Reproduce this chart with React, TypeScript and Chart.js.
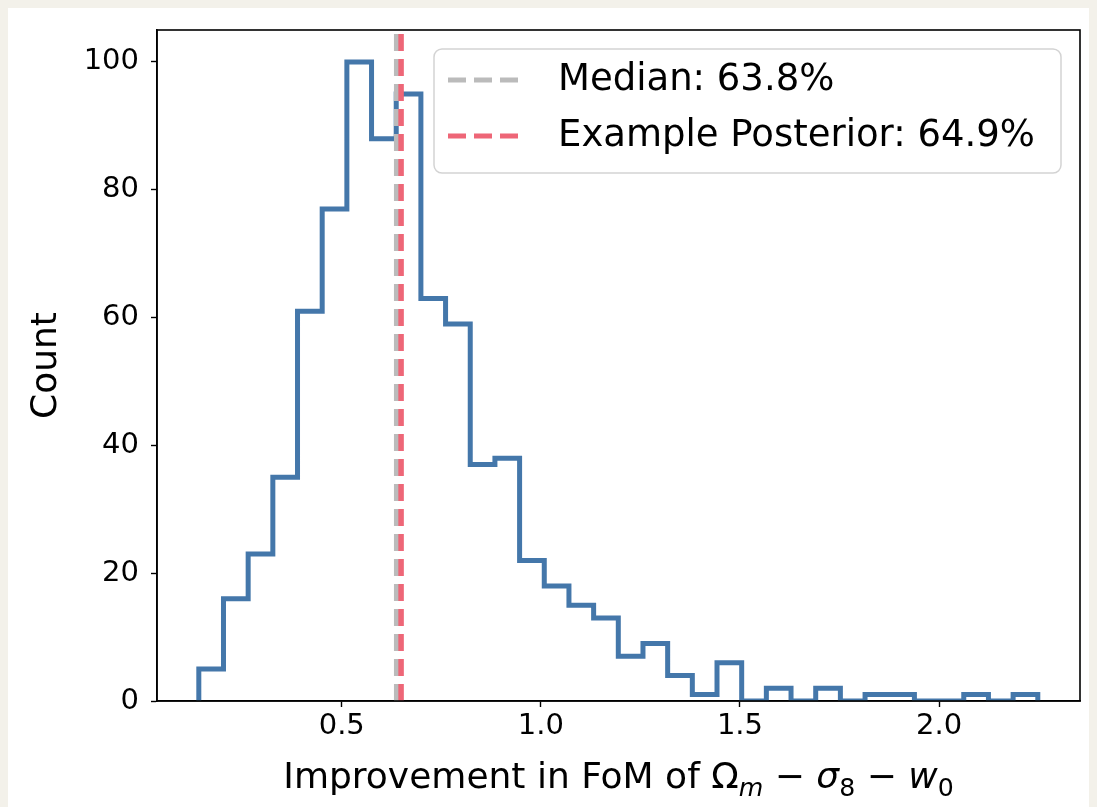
import React, { useEffect, useRef } from 'react';
import { Chart, registerables } from 'chart.js';

Chart.register(...registerables);

// ---- data ----
const counts = [5, 16, 23, 35, 61, 77, 100, 88, 95, 63, 59, 37, 38, 22, 18, 15, 13, 7, 9, 4, 1, 6, 0, 2, 0, 2, 0, 1, 1, 0, 0, 1, 0, 1];
const binStart = 0.141;
const binEnd = 2.248;
const medianValue = 0.638;
const examplePosteriorValue = 0.649;
const legendLabels = ['Median: 63.8%', 'Example Posterior: 64.9%'];
const xTicks = [0.5, 1.0, 1.5, 2.0];
const yTicks = [0, 20, 40, 60, 80, 100];
const xRange = [0.036, 2.354];
const yRange = [0, 105];
const yTitle = 'Count';
const xTitleParts = [
  { t: 'Improvement in FoM of ', italic: false, sub: false },
  { t: 'Ω', italic: false, sub: false },
  { t: 'm', italic: true, sub: true },
  { t: ' − ', italic: false, sub: false },
  { t: 'σ', italic: true, sub: false },
  { t: '8', italic: false, sub: true },
  { t: ' − ', italic: false, sub: false },
  { t: 'w', italic: true, sub: false },
  { t: '0', italic: false, sub: true },
];

const BLUE = '#4477AA';
const RED = '#EE6677';
const GREY = '#BBBBBB';
const FONT = "'DejaVu Sans', sans-serif";

const W = 1089;
const H = 799;

const decorPlugin = {
  id: 'decor',
  afterDraw(chart: any) {
    const { ctx, chartArea } = chart;
    const { left, right, top, bottom } = chartArea;
    ctx.save();
    // frame
    ctx.strokeStyle = '#000';
    ctx.lineWidth = 1.6;
    ctx.setLineDash([]);
    ctx.strokeRect(left, top, right - left, bottom - top);

    // y title
    ctx.fillStyle = '#000';
    ctx.font = `36px ${FONT}`;
    ctx.textAlign = 'center';
    ctx.textBaseline = 'middle';
    ctx.save();
    ctx.translate(39, (top + bottom) / 2);
    ctx.rotate(-Math.PI / 2);
    ctx.fillText(yTitle, 0, 0);
    ctx.restore();

    // x title with sub/italic parts
    const fs = 36;
    const subFs = fs * 0.7;
    const fontFor = (p: any) => `${p.italic ? 'italic ' : ''}${p.sub ? subFs : fs}px ${FONT}`;
    let total = 0;
    for (const p of xTitleParts) {
      ctx.font = fontFor(p);
      total += ctx.measureText(p.t).width;
    }
    let x = (left + right) / 2 - total / 2;
    const baseY = 780;
    ctx.textAlign = 'left';
    ctx.textBaseline = 'alphabetic';
    for (const p of xTitleParts) {
      ctx.font = fontFor(p);
      ctx.fillText(p.t, x, p.sub ? baseY + 8 : baseY);
      x += ctx.measureText(p.t).width;
    }

    // legend
    const bx = 426, by = 41, bw = 627, bh = 124, r = 8;
    ctx.beginPath();
    ctx.moveTo(bx + r, by);
    ctx.lineTo(bx + bw - r, by);
    ctx.arcTo(bx + bw, by, bx + bw, by + r, r);
    ctx.lineTo(bx + bw, by + bh - r);
    ctx.arcTo(bx + bw, by + bh, bx + bw - r, by + bh, r);
    ctx.lineTo(bx + r, by + bh);
    ctx.arcTo(bx, by + bh, bx, by + bh - r, r);
    ctx.lineTo(bx, by + r);
    ctx.arcTo(bx, by, bx + r, by, r);
    ctx.closePath();
    ctx.fillStyle = 'rgba(255,255,255,0.8)';
    ctx.fill();
    ctx.strokeStyle = '#d3d3d3';
    ctx.lineWidth = 1.5;
    ctx.stroke();

    const rows = [
      { label: legendLabels[0], color: GREY, y: 72 },
      { label: legendLabels[1], color: RED, y: 128 },
    ];
    for (const row of rows) {
      ctx.strokeStyle = row.color;
      ctx.lineWidth = 5;
      ctx.setLineDash([18, 8]);
      ctx.lineCap = 'butt';
      ctx.beginPath();
      ctx.moveTo(440, row.y);
      ctx.lineTo(517, row.y);
      ctx.stroke();
      ctx.setLineDash([]);
      ctx.fillStyle = '#000';
      ctx.font = `37px ${FONT}`;
      ctx.textAlign = 'left';
      ctx.textBaseline = 'middle';
      ctx.fillText(row.label, 550, row.y);
    }
    ctx.restore();
  },
};

export default function App() {
  const canvasRef = useRef<HTMLCanvasElement | null>(null);

  useEffect(() => {
    document.body.style.background = '#f3f1ea';
    document.documentElement.style.overflow = 'hidden';
    const canvas = canvasRef.current;
    if (!canvas) return;

    const binWidth = (binEnd - binStart) / counts.length;
    const histPoints = [
      { x: binStart, y: 0 },
      ...counts.map((c, i) => ({ x: binStart + i * binWidth, y: c })),
      { x: binEnd, y: 0 },
    ];

    const chart = new Chart(canvas, {
      type: 'line',
      data: {
        datasets: [
          {
            label: legendLabels[1],
            data: [
              { x: examplePosteriorValue, y: yRange[0] },
              { x: examplePosteriorValue, y: yRange[1] },
            ],
            borderColor: RED,
            borderWidth: 5.5,
            borderDash: [17, 8],
            borderCapStyle: 'butt',
            pointRadius: 0,
            order: 1,
          },
          {
            label: legendLabels[0],
            data: [
              { x: medianValue, y: yRange[0] },
              { x: medianValue, y: yRange[1] },
            ],
            borderColor: GREY,
            borderWidth: 5.5,
            borderDash: [17, 8],
            borderCapStyle: 'butt',
            pointRadius: 0,
            order: 2,
          },
          {
            label: 'hist',
            data: histPoints,
            stepped: 'before',
            borderColor: BLUE,
            borderWidth: 5,
            borderJoinStyle: 'miter',
            borderCapStyle: 'butt',
            pointRadius: 0,
            fill: false,
            order: 3,
          },
        ],
      } as any,
      options: {
        animation: false,
        responsive: false,
        devicePixelRatio: 1,
        layout: { padding: { top: 22, right: 17, left: 0, bottom: 0 } },
        plugins: { legend: { display: false }, tooltip: { enabled: false } },
        events: [],
        scales: {
          x: {
            type: 'linear',
            min: xRange[0],
            max: xRange[1],
            afterBuildTicks: (scale: any) => {
              scale.ticks = xTicks.map((v) => ({ value: v }));
            },
            afterFit: (scale: any) => {
              scale.height = H - 693;
              scale.paddingLeft = 0;
              scale.paddingRight = 0;
            },
            ticks: {
              callback: (v: any) => Number(v).toFixed(1),
              font: { family: 'DejaVu Sans', size: 29 },
              color: '#000',
              padding: 2,
              maxRotation: 0,
              autoSkip: false,
            },
            grid: {
              drawOnChartArea: false,
              drawTicks: true,
              tickLength: 6,
              tickColor: '#000',
              tickWidth: 1.4,
            },
            border: { display: true, color: '#000', width: 1.6 },
          },
          y: {
            type: 'linear',
            min: yRange[0],
            max: yRange[1],
            afterBuildTicks: (scale: any) => {
              scale.ticks = yTicks.map((v) => ({ value: v }));
            },
            afterFit: (scale: any) => {
              scale.width = 149;
              scale.paddingTop = 0;
              scale.paddingBottom = 0;
            },
            ticks: {
              callback: (v: any) => String(v),
              font: { family: 'DejaVu Sans', size: 29 },
              color: '#000',
              padding: 12,
              autoSkip: false,
            },
            grid: {
              drawOnChartArea: false,
              drawTicks: true,
              tickLength: 6,
              tickColor: '#000',
              tickWidth: 1.4,
            },
            border: { display: true, color: '#000', width: 1.6 },
          },
        },
      } as any,
      plugins: [decorPlugin],
    });

    return () => chart.destroy();
  }, []);

  return (
    <div style={{ width: W, height: H, background: '#ffffff' }}>
      <canvas ref={canvasRef} width={W} height={H} style={{ display: 'block' }} />
    </div>
  );
}
